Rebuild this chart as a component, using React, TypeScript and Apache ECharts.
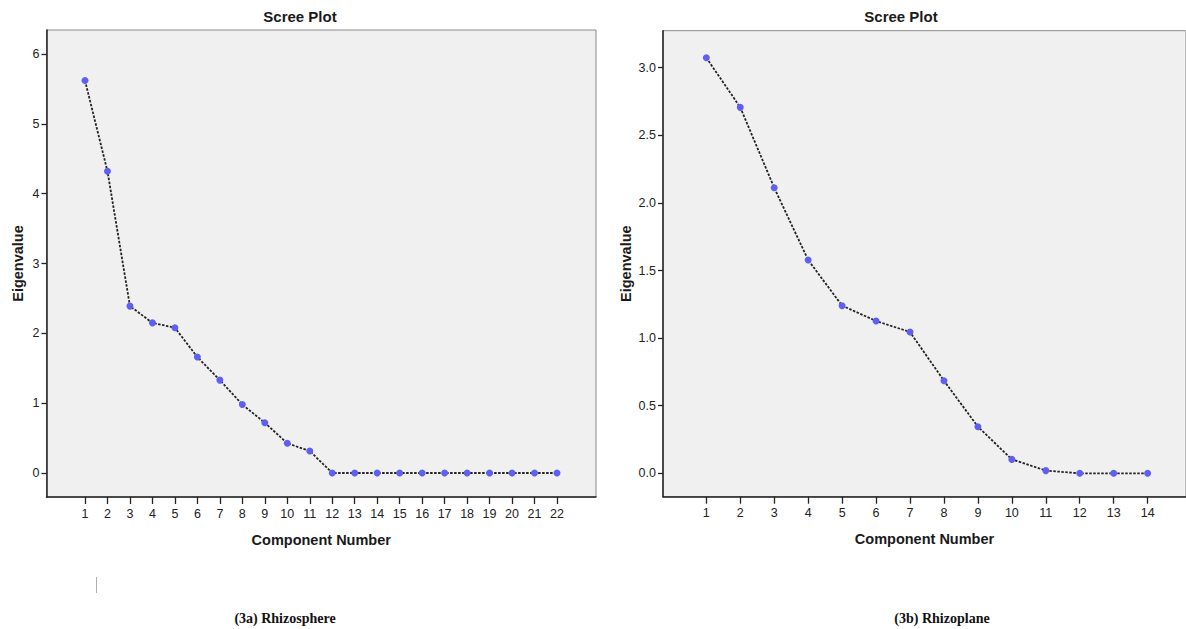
import React, { useEffect, useRef } from "react";
import * as echarts from "echarts";

const leftComponents = [1, 2, 3, 4, 5, 6, 7, 8, 9, 10, 11, 12, 13, 14, 15, 16, 17, 18, 19, 20, 21, 22];
const leftEigen = [5.62, 4.32, 2.39, 2.15, 2.08, 1.66, 1.33, 0.98, 0.72, 0.425, 0.315, 0, 0, 0, 0, 0, 0, 0, 0, 0, 0, 0];
const leftYTicks = [0, 1, 2, 3, 4, 5, 6];

const rightComponents = [1, 2, 3, 4, 5, 6, 7, 8, 9, 10, 11, 12, 13, 14];
const rightEigen = [3.074, 2.707, 2.112, 1.578, 1.24, 1.127, 1.045, 0.685, 0.345, 0.103, 0.02, 0, 0, 0];
const rightYTicks = [0, 0.5, 1.0, 1.5, 2.0, 2.5, 3.0];

const chartTitle = "Scree Plot";
const xName = "Component Number";
const yName = "Eigenvalue";
const captionA = "(3a) Rhizosphere";
const captionB = "(3b) Rhizoplane";

const SANS = "'Liberation Sans', Arial, sans-serif";
const SERIF = "'Liberation Serif', 'Times New Roman', serif";

export default function App() {
  const ref = useRef<HTMLDivElement>(null);
  useEffect(() => {
    if (!ref.current) return;
    const chart = echarts.init(ref.current, undefined, { renderer: "svg" });

    const xAxisBase = (gridIndex: number, min: number, max: number, ticks: number[]) => ({
      type: "value",
      gridIndex,
      min,
      max,
      name: xName,
      nameLocation: "middle",
      nameGap: 35,
      nameTextStyle: { fontFamily: SANS, fontWeight: "bold", fontSize: 14.5, color: "#1a1a1a" },
      axisLine: { show: true, onZero: false, lineStyle: { color: "#222", width: 1.5 } },
      axisTick: { show: true, inside: false, length: 7, customValues: ticks, lineStyle: { color: "#222", width: 1.3 } },
      axisLabel: { show: true, customValues: ticks, margin: 10, fontFamily: SANS, fontSize: 12.5, color: "#222" },
      splitLine: { show: false },
    });

    const yAxisBase = (gridIndex: number, min: number, max: number, ticks: number[], fixed: boolean, gap: number) => ({
      type: "value",
      gridIndex,
      min,
      max,
      name: yName,
      nameLocation: "middle",
      nameGap: gap,
      nameTextStyle: { fontFamily: SANS, fontWeight: "bold", fontSize: 14.5, color: "#1a1a1a" },
      axisLine: { show: true, onZero: false, lineStyle: { color: "#222", width: 1.5 } },
      axisTick: { show: true, inside: false, length: 5, customValues: ticks, lineStyle: { color: "#222", width: 1.3 } },
      axisLabel: {
        show: true,
        customValues: ticks,
        margin: 7,
        fontFamily: SANS,
        fontSize: 12.5,
        color: "#222",
        formatter: (v: number) => (fixed ? v.toFixed(1) : String(v)),
      },
      splitLine: { show: false },
    });

    const seriesBase = (idx: number, xs: number[], ys: number[]) => ({
      type: "line",
      xAxisIndex: idx,
      yAxisIndex: idx,
      data: xs.map((x, i) => [x, ys[i]]),
      symbol: "circle",
      symbolSize: 7,
      itemStyle: { color: "#5f5ff2" },
      lineStyle: { color: "#222", width: 1.8, type: [2.5, 1.5] },
      z: 3,
    });

    chart.setOption({
      animation: false,
      grid: [
        { left: 46.5, top: 30, width: 549.5, height: 467, show: true, backgroundColor: "#f0f0f0", borderColor: "#8a8a8a", borderWidth: 1 },
        { left: 663, top: 30.7, width: 523, height: 466, show: true, backgroundColor: "#f0f0f0", borderColor: "#8a8a8a", borderWidth: 1 },
      ],
      xAxis: [
        xAxisBase(0, -0.713, 23.735, leftComponents),
        xAxisBase(1, -0.276, 15.13, rightComponents),
      ],
      yAxis: [
        yAxisBase(0, -0.344, 6.344, leftYTicks, false, 21),
        yAxisBase(1, -0.173, 3.274, rightYTicks, true, 30),
      ],
      series: [seriesBase(0, leftComponents, leftEigen), seriesBase(1, rightComponents, rightEigen)],
      graphic: [
        { type: "text", x: 300, y: 16, style: { text: chartTitle, fontFamily: SANS, fontWeight: "bold", fontSize: 15, fill: "#1a1a1a", align: "center", verticalAlign: "middle" } },
        { type: "text", x: 901, y: 16, style: { text: chartTitle, fontFamily: SANS, fontWeight: "bold", fontSize: 15, fill: "#1a1a1a", align: "center", verticalAlign: "middle" } },
        { type: "text", x: 285, y: 618, style: { text: captionA, fontFamily: SERIF, fontWeight: "bold", fontSize: 14, fill: "#111", align: "center", verticalAlign: "middle" } },
        { type: "text", x: 942, y: 618, style: { text: captionB, fontFamily: SERIF, fontWeight: "bold", fontSize: 14, fill: "#111", align: "center", verticalAlign: "middle" } },
        { type: "line", shape: { x1: 96.5, y1: 577, x2: 96.5, y2: 593 }, style: { stroke: "#b0b0b0", lineWidth: 1 } },
      ],
    });
    return () => chart.dispose();
  }, []);
  return <div ref={ref} style={{ position: "absolute", left: 0, top: 0, width: 1186, height: 629, background: "#fff" }} />;
}
